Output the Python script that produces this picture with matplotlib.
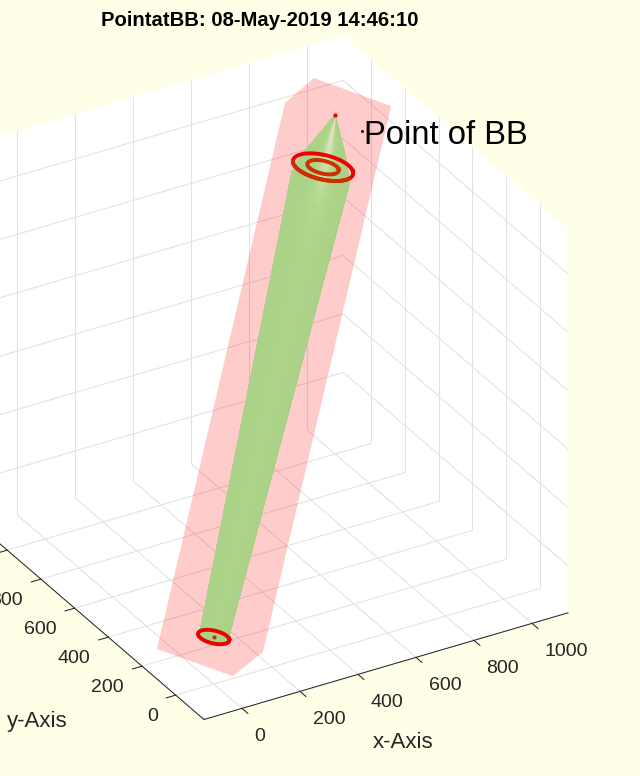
#!/usr/bin/env python3
# point at BB view, 3d box drawn with a fixed orthographic projection
import numpy as np
import matplotlib
matplotlib.use('Agg')
import matplotlib.pyplot as plt
from matplotlib.colors import LinearSegmentedColormap

plt.rcParams['font.family'] = ['Liberation Sans', 'DejaVu Sans']

# axis limits
x_lim = [-131, 1124]
y_lim = [-168, 1166]
z_lim = [-161, 1154]

x_ticks = [0, 200, 400, 600, 800, 1000]
y_ticks = [0, 200, 400, 600, 800, 1000]
z_ticks = [0, 200, 400, 600, 800, 1000]

title = 'PointatBB: 08-May-2019 14:46:10'
point_label = 'Point of BB'

# point of BB
bb_point = [1000, 1000, 1000]
base_point = [0, 0, 0]

# pink beam outline
pink_x = [992, 1154, 107, -2, -162, 885]
pink_y = [1113, 933, -108, -118, 58, 1100]
pink_z = [1073, 1019, -29, -75, -23, 1025]

# green cone along the diagonal, station and radius
cone_t = [0, 880, 920, 1000]
cone_r = [43, 87, 65, 0]

# red rings on the diagonal
ring_t = [0, 900, 900]
ring_r = [48, 92, 48]

bg_col = '#ffffe8'
axis_col = '#262626'
grid_col = '#e2e2e2'


def project(x, y, z):
    x, y, z = np.asarray(x, float), np.asarray(y, float), np.asarray(z, float)
    px = 213.7 + 0.29 * x - 0.1685 * y
    py = 637 - 0.085 * x - 0.145 * y - 0.292 * z
    return px, py


# circle around the diagonal
def circle(t, r, theta):
    ux, uy = 1 / np.sqrt(2), -1 / np.sqrt(2)
    vx, vy, vz = 1 / np.sqrt(6), 1 / np.sqrt(6), -2 / np.sqrt(6)
    x = t + r * (ux * np.cos(theta) + vx * np.sin(theta))
    y = t + r * (uy * np.cos(theta) + vy * np.sin(theta))
    z = t + r * vz * np.sin(theta)
    return project(x, y, z)


def line3d(ax, a, b, **kw):
    px, py = project(*np.array([a, b]).T)
    ax.plot(px, py, **kw)


fig = plt.figure(figsize=(6.4, 7.76), dpi=100, facecolor=bg_col)
ax = fig.add_axes([0, 0, 1, 1])
ax.set_xlim(0, 640)
ax.set_ylim(776, 0)
ax.axis('off')

# white box
x0, x1 = x_lim
y0, y1 = y_lim
z0, z1 = z_lim
box = np.array([[x0, y0, z0], [x1, y0, z0], [x1, y0, z1], [x1, y1, z1],
                [x0, y1, z1], [x0, y1, z0]]).T
px, py = project(*box)
ax.fill(px, py, color='white', lw=0, zorder=0)

# grid
grid = dict(color=grid_col, lw=0.75, zorder=1, solid_capstyle='butt')
for x in x_ticks:
    line3d(ax, [x, y0, z0], [x, y1, z0], **grid)
    line3d(ax, [x, y1, z0], [x, y1, z1], **grid)
for y in y_ticks:
    line3d(ax, [x0, y, z0], [x1, y, z0], **grid)
    line3d(ax, [x1, y, z0], [x1, y, z1], **grid)
for z in z_ticks:
    line3d(ax, [x0, y1, z], [x1, y1, z], **grid)
    line3d(ax, [x1, y1, z], [x1, y0, z], **grid)

# axis lines and ticks
axl = dict(color=axis_col, lw=0.75, zorder=6)
line3d(ax, [x0, y0, z0], [x1, y0, z0], **axl)
line3d(ax, [x0, y0, z0], [x0, y1, z0], **axl)
for x in x_ticks:
    line3d(ax, [x, y0, z0], [x, y0 - 35, z0], **axl)
    tx, ty = project(x, y0, z0)
    ax.text(tx + 12.5, ty + 28.5, str(x), ha='left', va='center', fontsize=14,
            color=axis_col)
for y in y_ticks:
    line3d(ax, [x0, y, z0], [x0 - 33, y, z0], **axl)
    tx, ty = project(x0, y, z0)
    # the last one falls off the left side of the figure
    if tx - 18 > 0:
        ax.text(tx - 18, ty + 21, str(y), ha='right', va='center', fontsize=14,
                color=axis_col)

ax.text(403.5, 742, 'x-Axis', ha='center', va='center', fontsize=16, color=axis_col)
ax.text(37.5, 721, 'y-Axis', ha='center', va='center', fontsize=16, color=axis_col)
ax.text(260, 20, title, ha='center', va='center', fontsize=14.55, fontweight='bold',
        color='black')

# pink polygon
px, py = project(pink_x, pink_y, pink_z)
ax.fill(px, py, color='#ff0000', alpha=0.2, lw=0, zorder=2)

# green cone, front half only
theta = np.radians(np.linspace(14, 194, 61))
tt = np.concatenate([np.linspace(0, 880, 30), np.linspace(880, 1000, 25)[1:]])
rr = np.interp(tt, cone_t, cone_r)
X = np.zeros((len(tt), len(theta)))
Y = np.zeros_like(X)
C = np.zeros_like(X)
w = np.clip((tt - 700) / 300, 0, 1)
for i in range(len(tt)):
    X[i], Y[i] = circle(tt[i], rr[i], theta)
    u = np.cos(theta)
    # light band down the middle, stronger towards the tip
    C[i] = np.exp(-((u + 0.15) / 0.4) ** 2) * (0.1 + 0.9 * w[i] ** 1.5)
    C[i] -= 0.12 * np.clip((u - 0.6) / 0.4, 0, 1) ** 2
cmap = LinearSegmentedColormap.from_list('cone', ['#a8d086', '#b1da8c', '#fae2da'])
ax.pcolormesh(X, Y, C, cmap=cmap, vmin=-0.2, vmax=1, shading='gouraud', alpha=0.93,
              zorder=3)

# rings
all_theta = np.radians(np.linspace(0, 360, 181))
for n in range(len(ring_t)):
    px, py = circle(ring_t[n], ring_r[n], all_theta)
    back = '#ee0000' if n != 2 else '#cc3000'
    ax.plot(px, py, color=back, lw=2.8, zorder=4)
    if n == 1:
        front = np.radians(np.linspace(40, 190, 60))
        px, py = circle(ring_t[n], ring_r[n], front)
        ax.plot(px, py, color='#cc3000', lw=2.8, zorder=4)

# points
px, py = project(*bb_point)
ax.plot(px, py, 'o', color='#e00000', ms=3, mew=0, zorder=5)
px, py = project(*base_point)
ax.plot(px, py, 'o', color='#c03020', ms=3, mew=0, zorder=5)

ax.plot(362, 131, 'o', color='#300000', ms=2.2, mew=0, zorder=5)
ax.text(364, 136, point_label, ha='left', va='center', fontsize=23.6, color='black',
        zorder=7)

fig.savefig('out.png', dpi=100, facecolor=bg_col)
